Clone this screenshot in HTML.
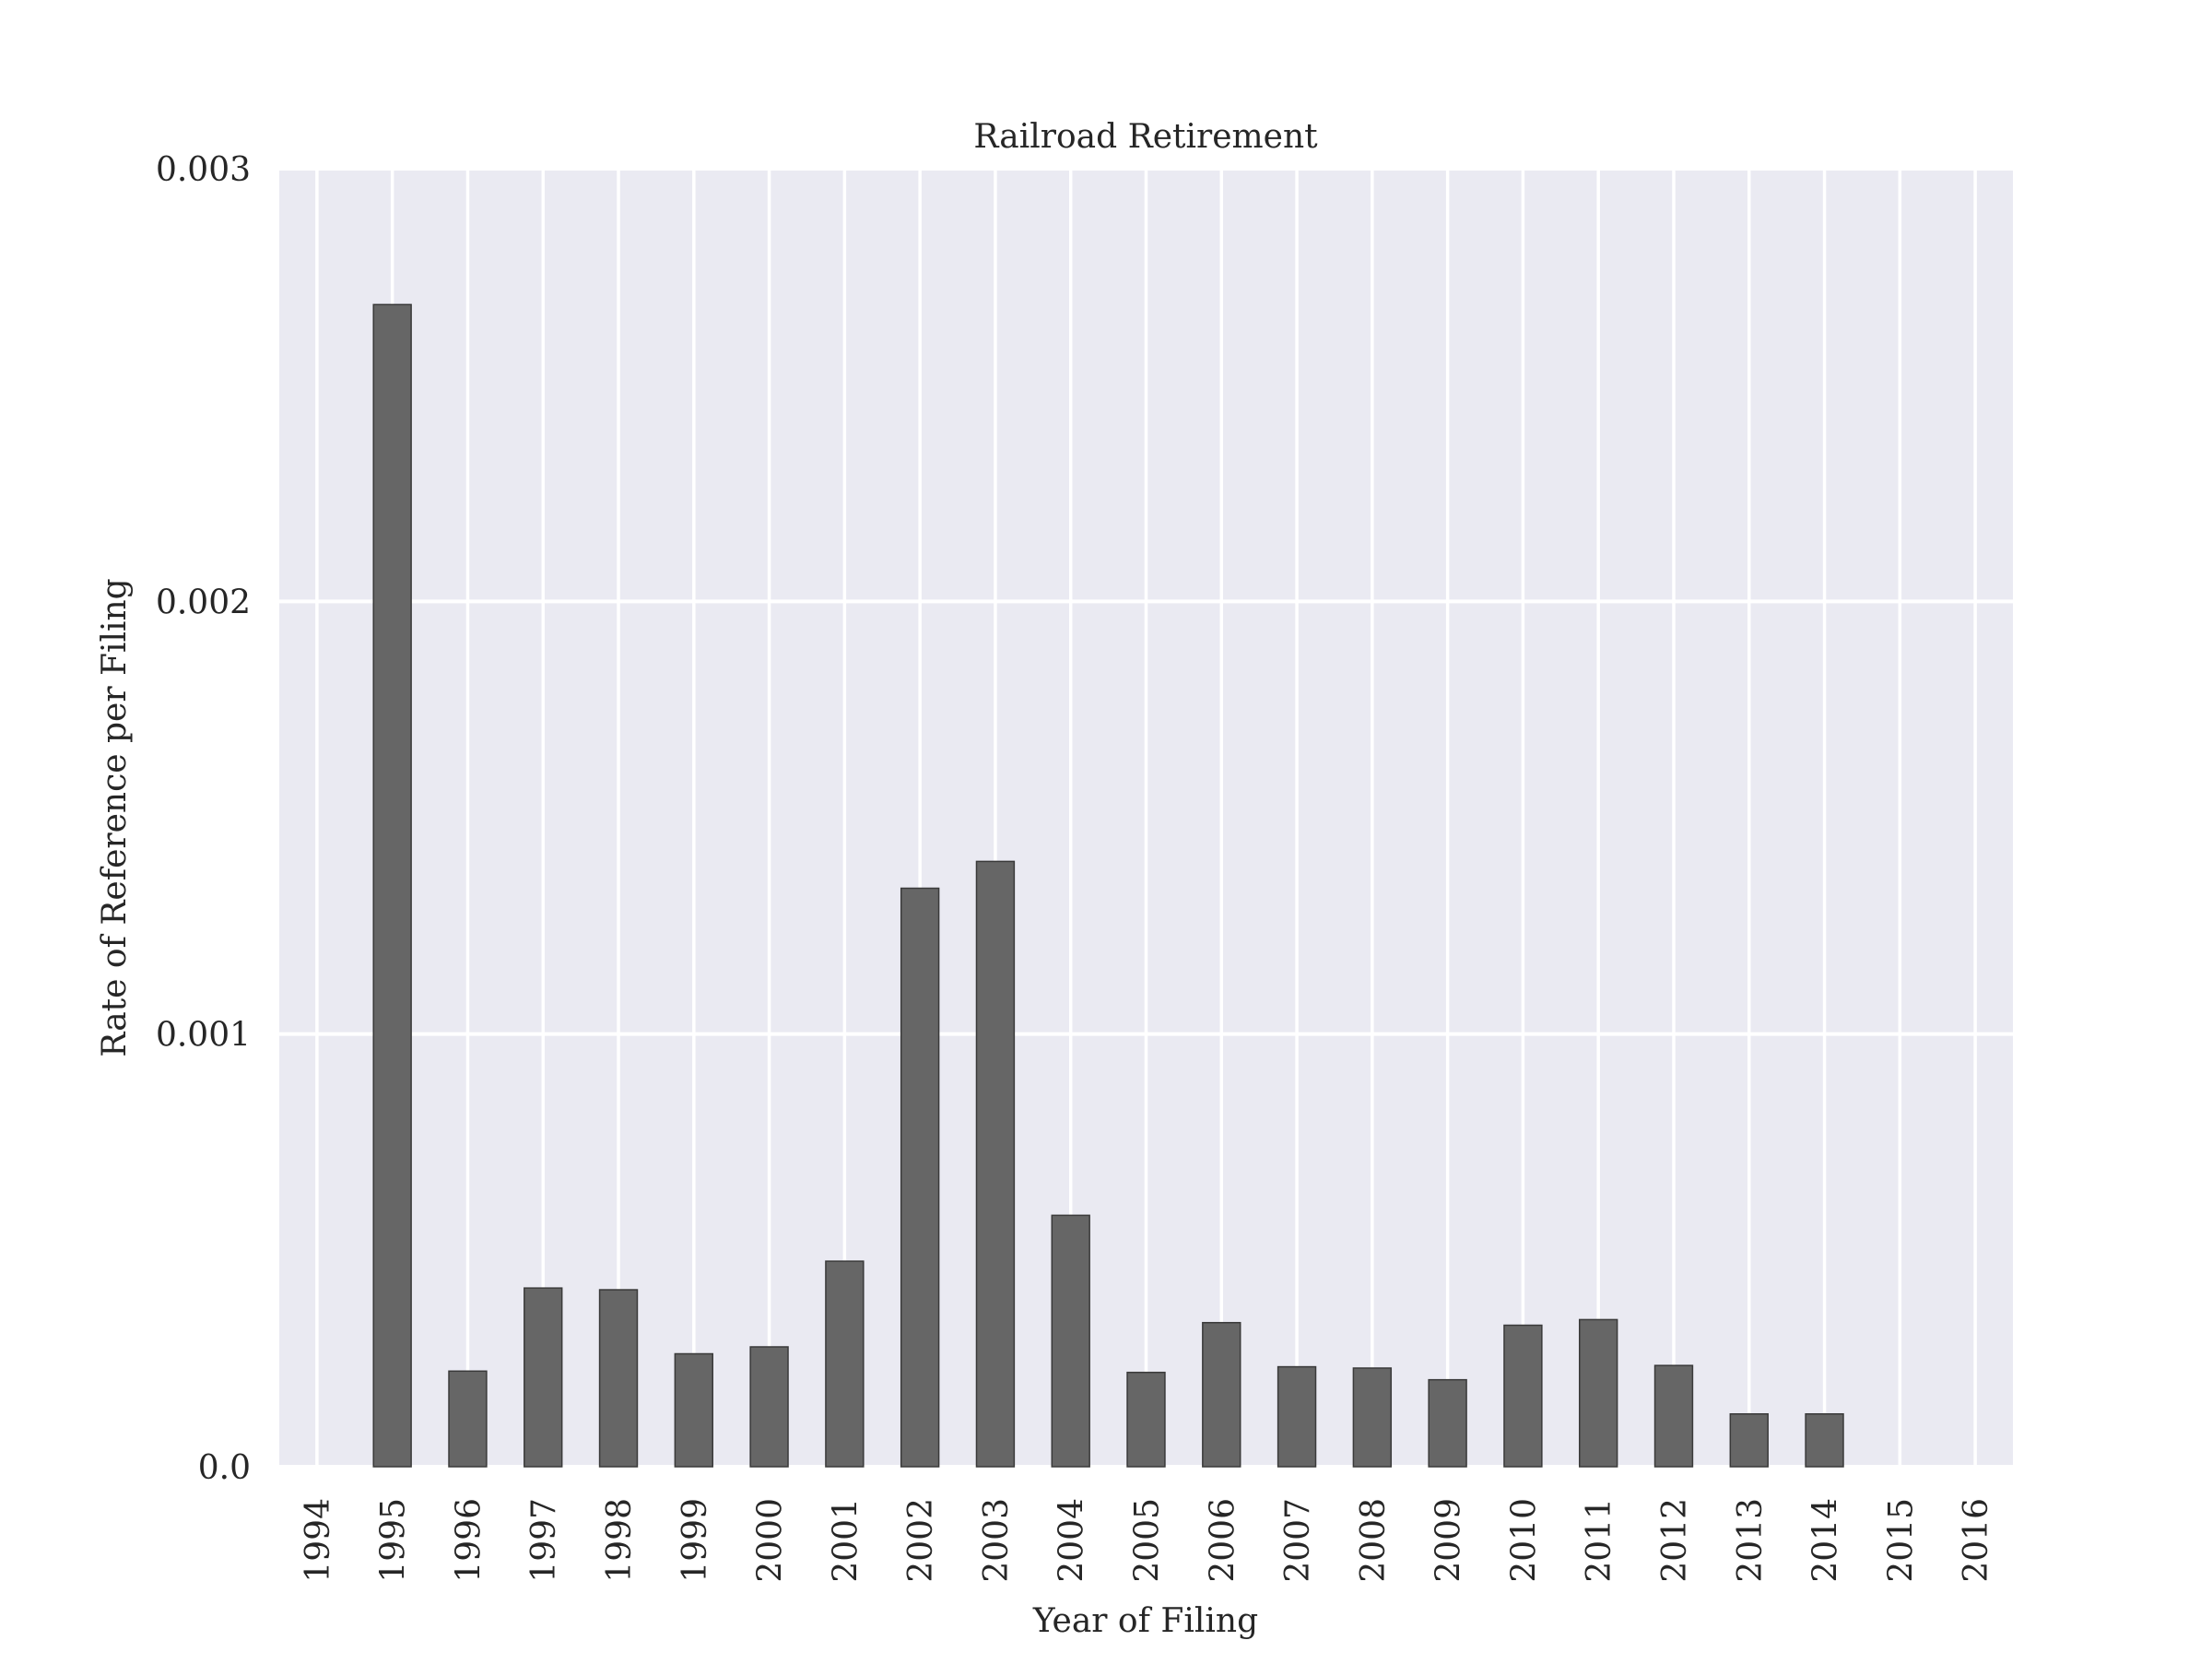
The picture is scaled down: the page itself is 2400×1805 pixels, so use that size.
<!DOCTYPE html>
<html><head><meta charset="utf-8"><style>
body{margin:0;background:#fff}
svg text{font-family:"DejaVu Serif","Liberation Serif",serif;fill:#262626}
</style></head><body>
<svg id="chart" width="2400" height="1800" xmlns="http://www.w3.org/2000/svg">
<rect x="303" y="183" width="1881" height="1408" fill="#EAEAF2"/>
<g id="grid"></g><g id="bars"></g><g id="xt"></g><g id="yt"></g>
<text x="1243" y="160" font-size="36" text-anchor="middle">Railroad Retirement</text>
<text x="1243" y="1770" font-size="36" text-anchor="middle">Year of Filing</text>
<text transform="translate(136,887) rotate(-90)" font-size="36" text-anchor="middle">Rate of Reference per Filing</text>
</svg>
<script>
const categories=["1994","1995","1996","1997","1998","1999","2000","2001","2002","2003","2004","2005","2006","2007","2008","2009","2010","2011","2012","2013","2014","2015","2016"];
const values=[0,0.002686,0.000221,0.000413,0.000409,0.000261,0.000277,0.000475,0.001337,0.001399,0.000581,0.000218,0.000333,0.000231,0.000228,0.000201,0.000327,0.000340,0.000234,0.000122,0.000122,0,0];
const yTicks=[0,0.001,0.002,0.003];
const yTickLabels=["0.0","0.001","0.002","0.003"];
const L=303,R=2184,T=183,B=1591,NS="http://www.w3.org/2000/svg";
const band=(R-L)/categories.length;
const x=i=>L+band*(i+0.5);
const y=v=>B-(v/0.003)*(B-T);
function mk(tag,a,p){const e=document.createElementNS(NS,tag);for(const k in a)e.setAttribute(k,a[k]);document.getElementById(p).appendChild(e);return e;}
categories.forEach((c,i)=>{
 const g=mk('line',{x1:x(i),x2:x(i),y1:T,y2:B,stroke:'#fff','stroke-width':3.5},'grid');
 
 
 const w=band*0.5;
 const b=mk('rect',{x:x(i)-w/2,y:y(values[i]),width:w,height:B-y(values[i]),fill:'#666666',stroke:'#3a3a3a','stroke-width':1.5},'bars');
 
 
 const t=mk('text',{transform:`translate(${x(i)+13},1625) rotate(-90)`,'font-size':36,'text-anchor':'end'},'xt');
 t.textContent=c;
 
 
});
yTicks.forEach((v,i)=>{
 const g=mk('line',{x1:L,x2:R,y1:y(v),y2:y(v),stroke:'#fff','stroke-width':4},'grid');
 
 
 const t=mk('text',{x:272,y:y(v)+13,'font-size':36,'text-anchor':'end'},'yt');
 t.textContent=yTickLabels[i];
 
 
});
</script>
</body></html>
